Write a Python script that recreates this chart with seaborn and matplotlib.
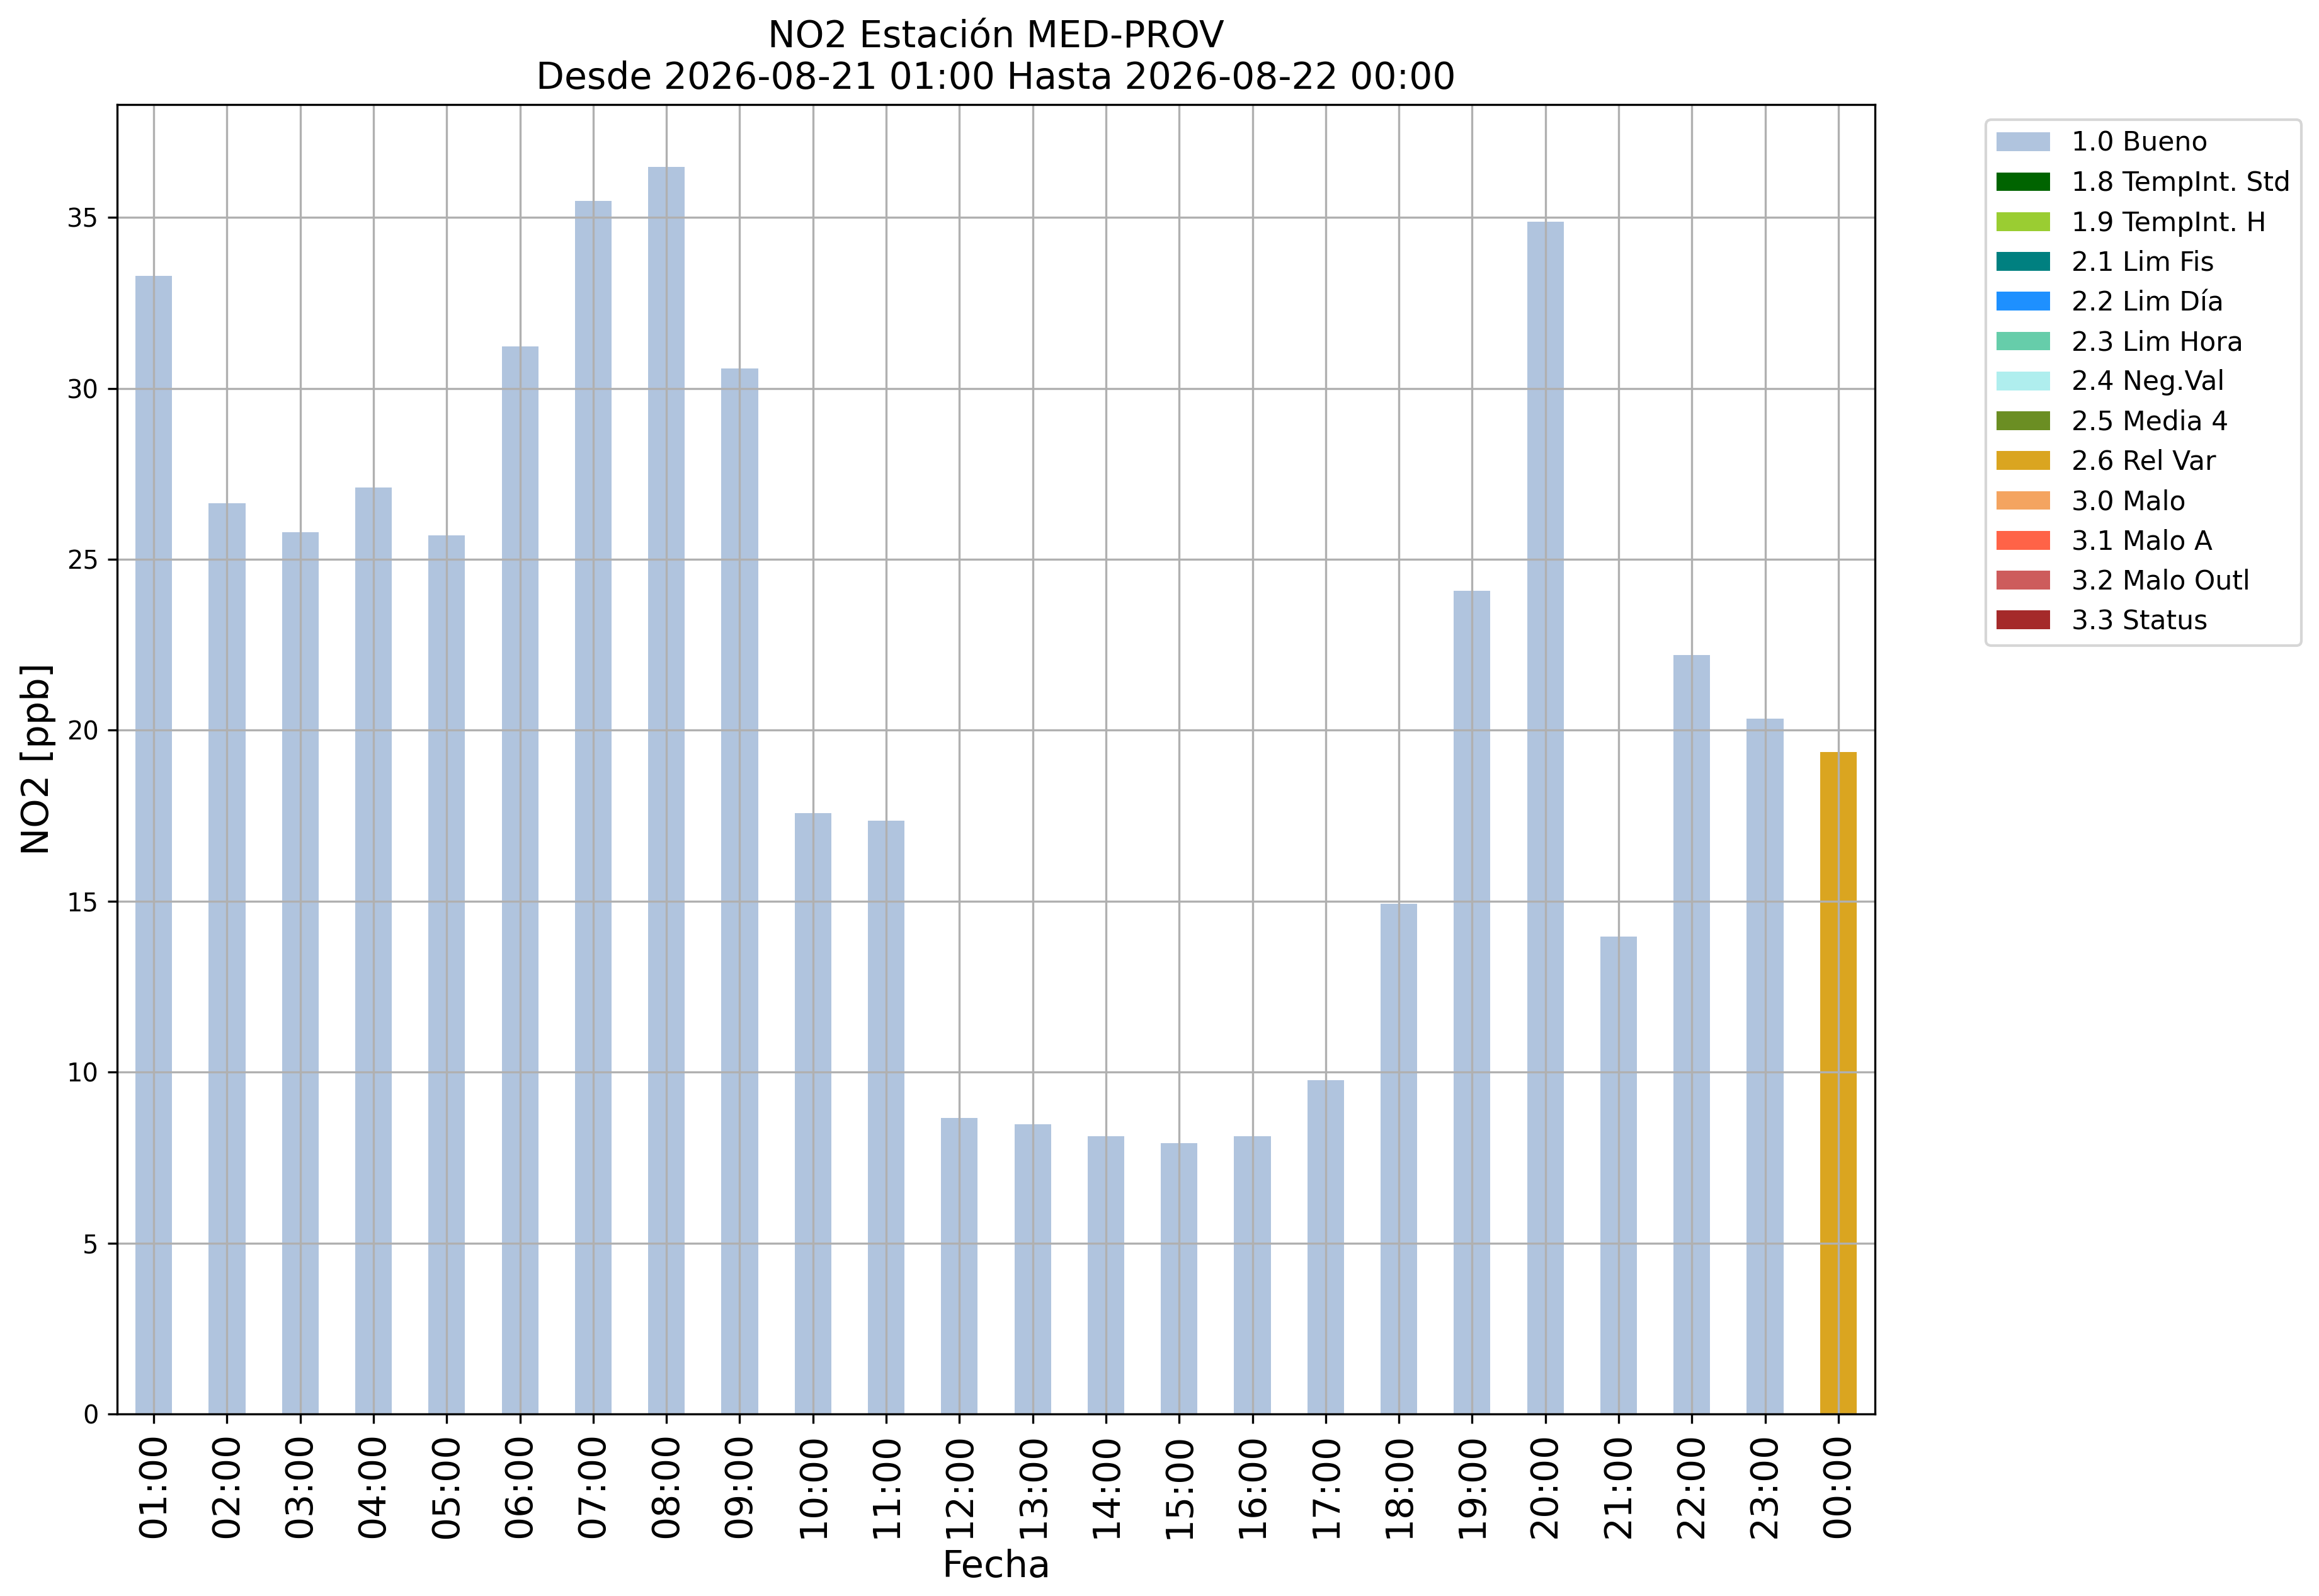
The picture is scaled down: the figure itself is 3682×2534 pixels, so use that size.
import matplotlib
matplotlib.use("Agg")
import matplotlib.pyplot as plt
from matplotlib.patches import Patch
import seaborn as sns
import pandas as pd

hours = ["01:00", "02:00", "03:00", "04:00", "05:00", "06:00", "07:00", "08:00",
         "09:00", "10:00", "11:00", "12:00", "13:00", "14:00", "15:00", "16:00",
         "17:00", "18:00", "19:00", "20:00", "21:00", "22:00", "23:00", "00:00"]
no2_values = [33.3, 26.65, 25.8, 27.1, 25.7, 31.22, 35.48, 36.48,
              30.58, 17.57, 17.35, 8.66, 8.48, 8.13, 7.92, 8.13,
              9.77, 14.93, 24.08, 34.88, 13.97, 22.2, 20.34, 19.37]
flags = ["1.0 Bueno"] * 23 + ["2.6 Rel Var"]

flag_labels = ["1.0 Bueno", "1.8 TempInt. Std", "1.9 TempInt. H", "2.1 Lim Fis",
               "2.2 Lim Día", "2.3 Lim Hora", "2.4 Neg.Val", "2.5 Media 4",
               "2.6 Rel Var", "3.0 Malo", "3.1 Malo A", "3.2 Malo Outl", "3.3 Status"]
flag_colors = ["lightsteelblue", "darkgreen", "yellowgreen", "teal",
               "dodgerblue", "mediumaquamarine", "paleturquoise", "olivedrab",
               "goldenrod", "sandybrown", "tomato", "indianred", "brown"]

title_text = "NO2 Estación MED-PROV\nDesde 2026-08-21 01:00 Hasta 2026-08-22 00:00"

df = pd.DataFrame({"Fecha": hours, "NO2": no2_values, "Flag": flags})
palette = dict(zip(flag_labels, flag_colors))

plt.rcParams["font.family"] = ["DejaVu Sans"]
fig = plt.figure(figsize=(3682 / 300, 2534 / 300), dpi=300)
ax = fig.add_axes([186 / 3682, 1 - 2245 / 2534, (2977 - 186) / 3682, (2245 - 166) / 2534])

sns.barplot(data=df, x="Fecha", y="NO2", hue="Flag", order=hours,
            hue_order=[f for f in flag_labels if f in set(flags)],
            palette=palette, dodge=False, width=0.5, saturation=1,
            legend=False, ax=ax, linewidth=0)

ax.set_axisbelow("line")
ax.grid(True, color="#b0b0b0", linewidth=0.8)
ax.set_xlim(-0.5, len(hours) - 0.5)
ax.set_title(title_text, fontsize=14.0)
ax.set_xlabel("Fecha", fontsize=14.2)
ax.set_ylabel("NO2 [ppb]", fontsize=14.2)
ax.tick_params(axis="x", labelsize=14, rotation=90)
ax.tick_params(axis="y", labelsize=9.6)

handles = [Patch(facecolor=c, edgecolor="none", label=l) for l, c in zip(flag_labels, flag_colors)]
ax.legend(handles=handles, loc="upper left", bbox_to_anchor=(3153 / 3682, 1 - 190 / 2534),
          bbox_transform=fig.transFigure, borderaxespad=0, fontsize=10.2)

fig.savefig("out.png", dpi=300)
